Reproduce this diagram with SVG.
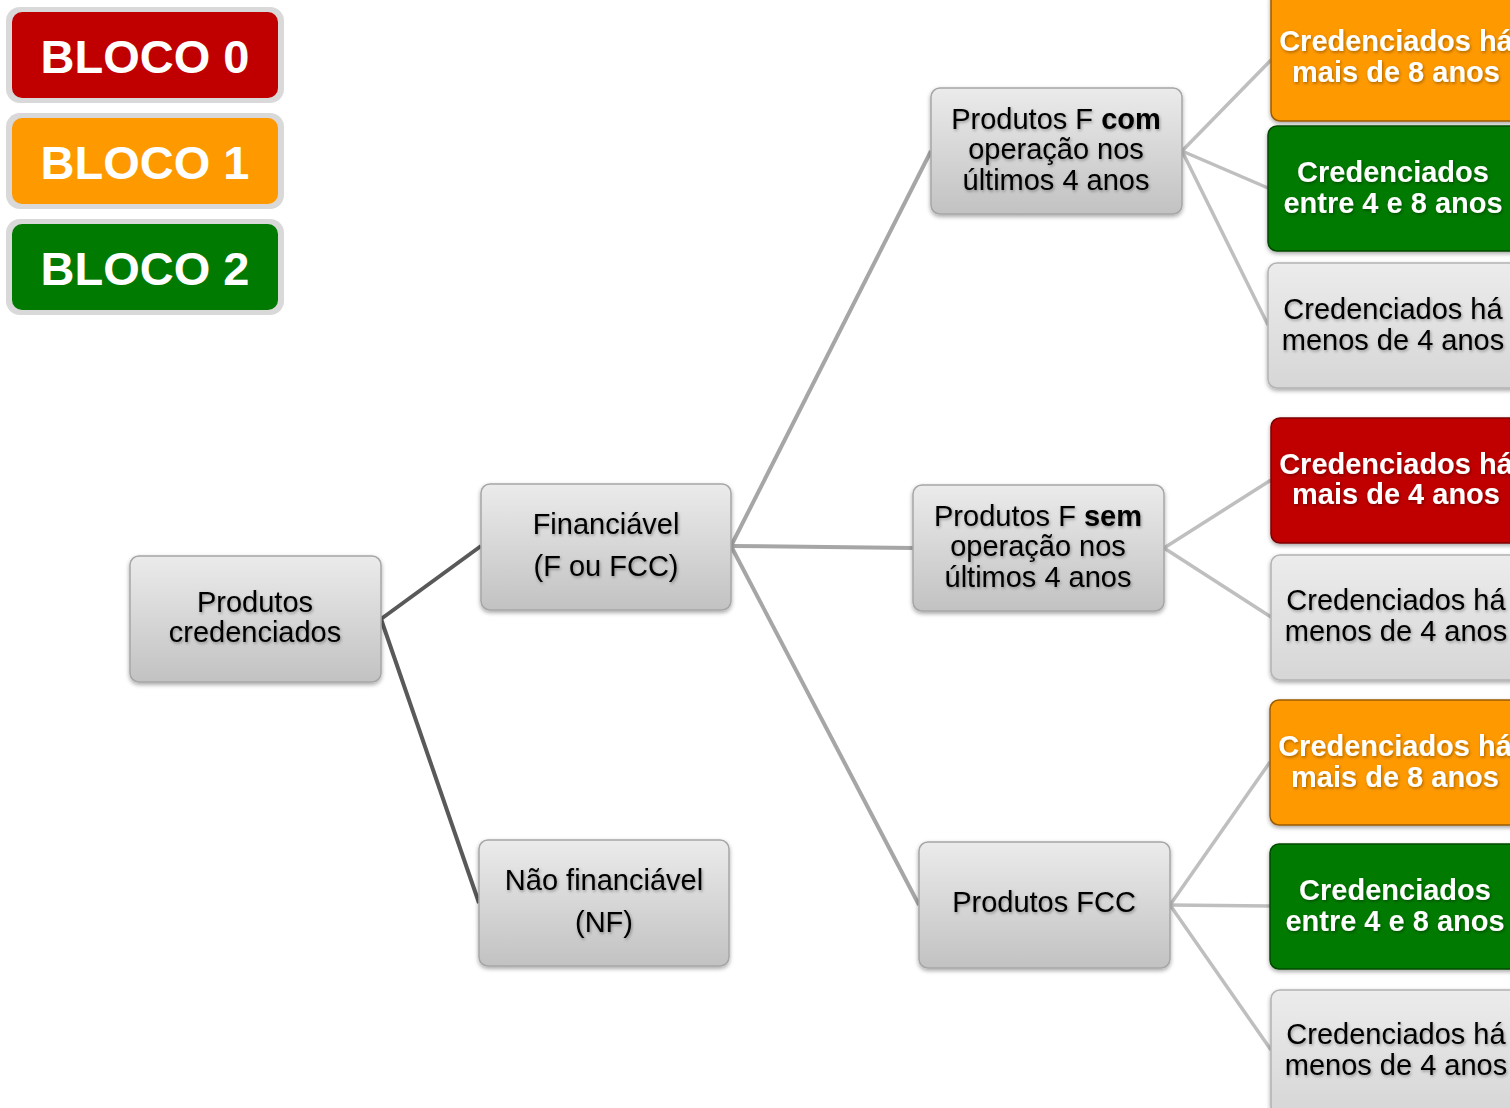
<svg xmlns="http://www.w3.org/2000/svg" width="1510" height="1108" viewBox="0 0 1510 1108">
<defs>
<linearGradient id="gNode" x1="0" y1="0" x2="0" y2="1">
<stop offset="0" stop-color="#ebebeb"/>
<stop offset="1" stop-color="#c2c2c2"/>
</linearGradient>
<linearGradient id="gLeaf" x1="0" y1="0" x2="0" y2="1">
<stop offset="0" stop-color="#ececec"/>
<stop offset="1" stop-color="#d6d6d6"/>
</linearGradient>
<filter id="sh" x="-10%" y="-10%" width="120%" height="130%">
<feDropShadow dx="0" dy="2" stdDeviation="2" flood-color="#000" flood-opacity="0.35"/>
</filter>
<filter id="tsh" x="-10%" y="-20%" width="120%" height="150%">
<feDropShadow dx="1" dy="1.5" stdDeviation="1.5" flood-color="#000" flood-opacity="0.35"/>
</filter>
</defs>
<style>
.legend-outer{fill:#d9d9d9}
.legtxt{font-family:"Liberation Sans",Arial,sans-serif;font-weight:bold;font-size:47px;fill:#fff;text-anchor:middle}
.node{fill:url(#gNode);stroke:#a6a6a6;stroke-width:1.5;filter:url(#sh)}
.leafg{fill:url(#gLeaf);stroke:#b3b3b3;stroke-width:1.5;filter:url(#sh)}
.red{fill:#c00000;stroke:#7f0000;stroke-width:1.5;filter:url(#sh)}
.orange{fill:#ff9900;stroke:#9a5c00;stroke-width:1.5;filter:url(#sh)}
.green{fill:#007a00;stroke:#004c00;stroke-width:1.5;filter:url(#sh)}
.t{font-family:"Liberation Sans",Arial,sans-serif;font-size:29px;fill:#000;text-anchor:middle;filter:url(#tsh)}
.tw{font-family:"Liberation Sans",Arial,sans-serif;font-size:29px;font-weight:bold;fill:#fff;text-anchor:middle;filter:url(#tsh)}
.c1{stroke:#595959;stroke-width:4;fill:none}
.c2{stroke:#a6a6a6;stroke-width:4;fill:none}
.c3{stroke:#bfbfbf;stroke-width:3.5;fill:none}
</style>
<rect width="1510" height="1108" fill="#fff"/>

<g id="legend0">
<rect class="legend-outer" x="6" y="7" width="278" height="96" rx="14"/>
<rect x="12" y="12" width="266" height="86" rx="10" fill="#c00000"/>
<text class="legtxt" x="145" y="73">BLOCO 0</text>
</g>
<g id="legend1">
<rect class="legend-outer" x="6" y="113" width="278" height="96" rx="14"/>
<rect x="12" y="118" width="266" height="86" rx="10" fill="#ff9900"/>
<text class="legtxt" x="145" y="179">BLOCO 1</text>
</g>
<g id="legend2">
<rect class="legend-outer" x="6" y="219" width="278" height="96" rx="14"/>
<rect x="12" y="224" width="266" height="86" rx="10" fill="#007a00"/>
<text class="legtxt" x="145" y="285">BLOCO 2</text>
</g>

<g id="connectors">
<line class="c1" x1="381" y1="619" x2="481" y2="546"/>
<line class="c1" x1="381" y1="619" x2="479" y2="903"/>
<line class="c2" x1="731" y1="546" x2="931" y2="151"/>
<line class="c2" x1="731" y1="546" x2="913" y2="548"/>
<line class="c2" x1="731" y1="546" x2="919" y2="905"/>
<line class="c3" x1="1182" y1="151" x2="1271" y2="60"/>
<line class="c3" x1="1182" y1="151" x2="1268" y2="188"/>
<line class="c3" x1="1182" y1="151" x2="1268" y2="325"/>
<line class="c3" x1="1164" y1="548" x2="1271" y2="480"/>
<line class="c3" x1="1164" y1="548" x2="1271" y2="617"/>
<line class="c3" x1="1170" y1="905" x2="1270" y2="762"/>
<line class="c3" x1="1170" y1="905" x2="1270" y2="906"/>
<line class="c3" x1="1170" y1="905" x2="1271" y2="1050"/>
</g>

<g id="n-root">
<rect class="node" x="130" y="556" width="251" height="126" rx="9"/>
<text class="t" x="255" y="612">Produtos</text>
<text class="t" x="255" y="642">credenciados</text>
</g>
<g id="n-fin">
<rect class="node" x="481" y="484" width="250" height="126" rx="9"/>
<text class="t" x="606" y="534">Financiável</text>
<text class="t" x="606" y="576">(F ou FCC)</text>
</g>
<g id="n-nf">
<rect class="node" x="479" y="840" width="250" height="126" rx="9"/>
<text class="t" x="604" y="890">Não financiável</text>
<text class="t" x="604" y="932">(NF)</text>
</g>
<g id="n-fcom">
<rect class="node" x="931" y="88" width="251" height="126" rx="9"/>
<text class="t" x="1056" y="129">Produtos F <tspan font-weight="bold">com</tspan></text>
<text class="t" x="1056" y="159">operação nos</text>
<text class="t" x="1056" y="190">últimos 4 anos</text>
</g>
<g id="n-fsem">
<rect class="node" x="913" y="485" width="251" height="126" rx="9"/>
<text class="t" x="1038" y="526">Produtos F <tspan font-weight="bold">sem</tspan></text>
<text class="t" x="1038" y="556">operação nos</text>
<text class="t" x="1038" y="587">últimos 4 anos</text>
</g>
<g id="n-fcc">
<rect class="node" x="919" y="842" width="251" height="126" rx="9"/>
<text class="t" x="1044" y="912">Produtos FCC</text>
</g>

<g id="l-com-8">
<rect class="orange" x="1271" y="-10" width="260" height="131" rx="9"/>
<text class="tw" x="1396" y="51">Credenciados há</text>
<text class="tw" x="1396" y="82">mais de 8 anos</text>
</g>
<g id="l-com-48">
<rect class="green" x="1268" y="126" width="260" height="125" rx="9"/>
<text class="tw" x="1393" y="182">Credenciados</text>
<text class="tw" x="1393" y="213">entre 4 e 8 anos</text>
</g>
<g id="l-com-4">
<rect class="leafg" x="1268" y="263" width="260" height="125" rx="9"/>
<text class="t" x="1393" y="319">Credenciados há</text>
<text class="t" x="1393" y="350">menos de 4 anos</text>
</g>
<g id="l-sem-4p">
<rect class="red" x="1271" y="418" width="260" height="125" rx="9"/>
<text class="tw" x="1396" y="474">Credenciados há</text>
<text class="tw" x="1396" y="504">mais de 4 anos</text>
</g>
<g id="l-sem-4m">
<rect class="leafg" x="1271" y="555" width="260" height="125" rx="9"/>
<text class="t" x="1396" y="610">Credenciados há</text>
<text class="t" x="1396" y="641">menos de 4 anos</text>
</g>
<g id="l-fcc-8">
<rect class="orange" x="1270" y="700" width="260" height="125" rx="9"/>
<text class="tw" x="1395" y="756">Credenciados há</text>
<text class="tw" x="1395" y="787">mais de 8 anos</text>
</g>
<g id="l-fcc-48">
<rect class="green" x="1270" y="844" width="260" height="125" rx="9"/>
<text class="tw" x="1395" y="900">Credenciados</text>
<text class="tw" x="1395" y="931">entre 4 e 8 anos</text>
</g>
<g id="l-fcc-4">
<rect class="leafg" x="1271" y="990" width="260" height="125" rx="9"/>
<text class="t" x="1396" y="1044">Credenciados há</text>
<text class="t" x="1396" y="1075">menos de 4 anos</text>
</g>
</svg>
